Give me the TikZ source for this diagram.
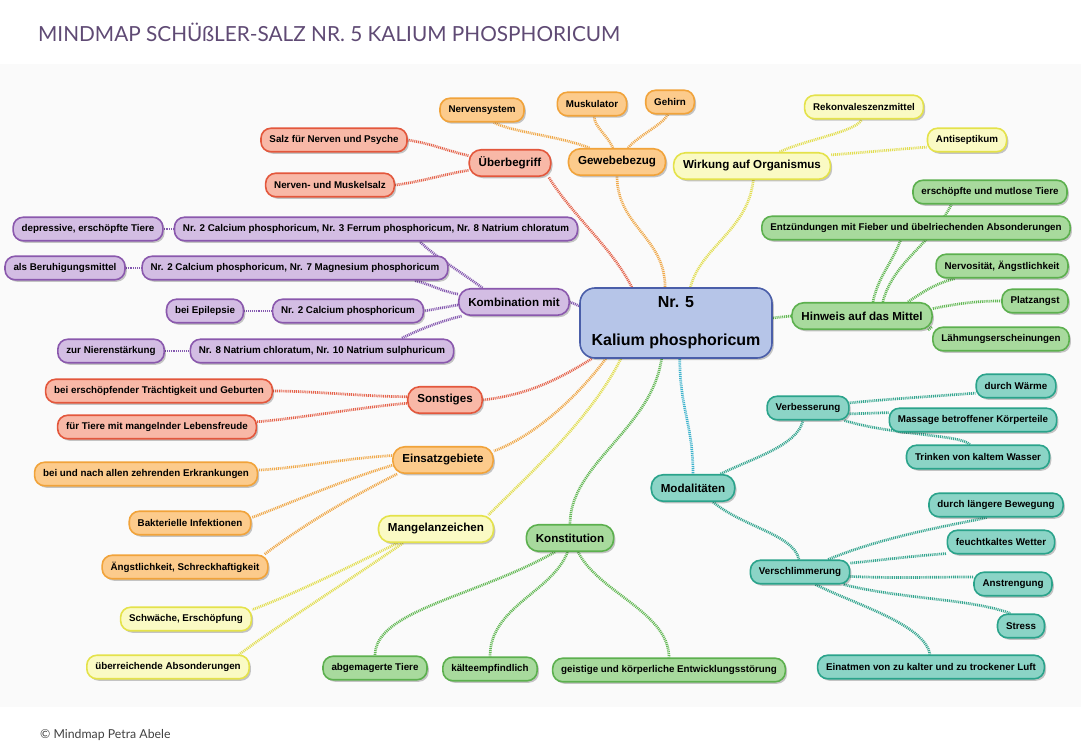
\documentclass[tikz,border=0pt]{standalone}
\usepackage{fontspec}
\setmainfont{Liberation Sans}
\newfontfamily\titlefont{Lato}
\usetikzlibrary{shadows}
\definecolor{fred}{HTML}{F8B8A7}\definecolor{dred}{HTML}{E3573C}\definecolor{ered}{HTML}{E5634B}
\definecolor{forg}{HTML}{FCCB8C}\definecolor{dorg}{HTML}{F1A33A}\definecolor{eorg}{HTML}{F0A848}
\definecolor{fyel}{HTML}{FAFAC4}\definecolor{dyel}{HTML}{E4E24A}\definecolor{eyel}{HTML}{E2DE50}
\definecolor{fgrn}{HTML}{A8DA9D}\definecolor{dgrn}{HTML}{5CB04E}\definecolor{egrn}{HTML}{62B853}
\definecolor{ftea}{HTML}{8BD4C6}\definecolor{dtea}{HTML}{2AA38B}\definecolor{etea}{HTML}{35A690}
\definecolor{ecya}{HTML}{3CB2CC}
\definecolor{fpur}{HTML}{D3BDE3}\definecolor{dpur}{HTML}{8A58AD}\definecolor{epur}{HTML}{8458B0}
\definecolor{fblu}{HTML}{B6C5E8}\definecolor{dblu}{HTML}{4A5EA9}
\definecolor{titlecol}{HTML}{5F4A74}
\pgfdeclarelayer{back}\pgfdeclarelayer{edges}
\pgfsetlayers{back,edges,main}
\begin{document}
\begin{tikzpicture}[x=1pt,y=-1pt,
  box/.style={draw, line width=1.6pt, rounded corners=10pt, inner xsep=8.5pt, inner ysep=2pt,
    minimum height=23.5pt, font=\bfseries\fontsize{9.8}{11}\selectfont,
    drop shadow={shadow xshift=1.8pt, shadow yshift=-2pt, opacity=0.22, fill=black}},
  mainbox/.style={box, minimum height=26.5pt, inner xsep=9.5pt, rounded corners=12pt,
    font=\bfseries\fontsize{11.6}{13}\selectfont},
  cred/.style={fill=fred, draw=dred},
  corg/.style={fill=forg, draw=dorg},
  cyel/.style={fill=fyel, draw=dyel},
  cgrn/.style={fill=fgrn, draw=dgrn},
  ctea/.style={fill=ftea, draw=dtea},
  cpur/.style={fill=fpur, draw=dpur},
  conn/.style={line width=2.7pt, dash pattern=on 1pt off 0.9pt, draw=#1}]
\useasboundingbox (0,0) rectangle (1081,749);
\begin{pgfonlayer}{back}
\fill[black!2] (0,64) rectangle (1081,707);
\end{pgfonlayer}
\node[anchor=west, inner sep=0pt, text=titlecol] (title) at (38,32)
  {\resizebox{582pt}{!}{\titlefont\fontsize{19}{22}\selectfont MINDMAP SCHÜßLER-SALZ NR. 5 KALIUM PHOSPHORICUM}};
\node[anchor=west, inner sep=0pt, text=black!75] (copy) at (40,735)
  {\titlefont\fontsize{12.3}{14}\selectfont © Mindmap Petra Abele};

% center
\node[draw=dblu, fill=fblu, line width=1.6pt, rounded corners=15pt, minimum width=192pt,
  minimum height=70pt, align=center, font=\bfseries\fontsize{16}{19}\selectfont,
  drop shadow={shadow xshift=1.8pt, shadow yshift=-2pt, opacity=0.22, fill=black}]
  (c) at (676,323) {Nr. 5\\[19pt]Kalium phosphoricum};

% Ueberbegriff
\node[mainbox,cred] (uber) at (510,163) {Überbegriff};
\node[box,cred] (salz) at (334,140) {Salz für Nerven und Psyche};
\node[box,cred] (nerv) at (330,185) {Nerven- und Muskelsalz};
% Gewebebezug
\node[mainbox,corg] (gew) at (617,162) {Gewebebezug};
\node[box,corg] (nsys) at (482,110) {Nervensystem};
\node[box,corg] (musk) at (592,104) {Muskulator};
\node[box,corg] (gehirn) at (670,102) {Gehirn};
% Wirkung
\node[mainbox,cyel] (wirk) at (752,166) {Wirkung auf Organismus};
\node[box,cyel] (rek) at (864,107) {Rekonvaleszenzmittel};
\node[box,cyel] (anti) at (967,140) {Antiseptikum};
% Hinweis
\node[mainbox,cgrn] (hin) at (862,316) {Hinweis auf das Mittel};
\node[box,cgrn] (ersch) at (990,192) {erschöpfte und mutlose Tiere};
\node[box,cgrn] (entz) at (916,228) {Entzündungen mit Fieber und übelriechenden Absonderungen};
\node[box,cgrn] (nerv2) at (1002,266) {Nervosität, Ängstlichkeit};
\node[box,cgrn] (platz) at (1035,301) {Platzangst};
\node[box,cgrn] (lahm) at (1001,339) {Lähmungserscheinungen};
% Modalitaeten
\node[mainbox,ctea] (mod) at (693,488) {Modalitäten};
\node[box,ctea] (verb) at (808,408) {Verbesserung};
\node[box,ctea] (warm) at (1016,386) {durch Wärme};
\node[box,ctea] (mass) at (973,420) {Massage betroffener Körperteile};
\node[box,ctea] (trink) at (978,457) {Trinken von kaltem Wasser};
\node[box,ctea] (vers) at (800,572) {Verschlimmerung};
\node[box,ctea] (lang) at (996,505) {durch längere Bewegung};
\node[box,ctea] (feu) at (1001,542) {feuchtkaltes Wetter};
\node[box,ctea] (anst) at (1013,584) {Anstrengung};
\node[box,ctea] (stress) at (1021,626) {Stress};
\node[box,ctea] (einat) at (931,667) {Einatmen von zu kalter und zu trockener Luft};
% Konstitution
\node[mainbox,cgrn] (kon) at (570,538) {Konstitution};
\node[box,cgrn] (abg) at (375,668) {abgemagerte Tiere};
\node[box,cgrn] (kalt) at (490,669) {kälteempfindlich};
\node[box,cgrn] (geist) at (669,670) {geistige und körperliche Entwicklungsstörung};
% Mangelanzeichen
\node[mainbox,cyel] (man) at (436,529) {Mangelanzeichen};
\node[box,cyel] (schw) at (186,619) {Schwäche, Erschöpfung};
\node[box,cyel] (ueb) at (168,667) {überreichende Absonderungen};
% Einsatzgebiete
\node[mainbox,corg] (ein) at (443,460) {Einsatzgebiete};
\node[box,corg] (bun) at (146,474) {bei und nach allen zehrenden Erkrankungen};
\node[box,corg] (bak) at (190,523) {Bakterielle Infektionen};
\node[box,corg] (angst) at (185,567) {Ängstlichkeit, Schreckhaftigkeit};
% Sonstiges
\node[mainbox,cred] (son) at (445,400) {Sonstiges};
\node[box,cred] (bers) at (159,391) {bei erschöpfender Trächtigkeit und Geburten};
\node[box,cred] (fuer) at (157,427) {für Tiere mit mangelnder Lebensfreude};
% Kombination
\node[mainbox,cpur] (komb) at (514,302) {Kombination mit};
\node[box,cpur] (k1) at (376,229) {Nr. 2 Calcium phosphoricum, Nr. 3 Ferrum phosphoricum, Nr. 8 Natrium chloratum};
\node[box,cpur] (k2) at (295,268) {Nr. 2 Calcium phosphoricum, Nr. 7 Magnesium phosphoricum};
\node[box,cpur] (k3) at (348,311) {Nr. 2 Calcium phosphoricum};
\node[box,cpur] (k4) at (322,351) {Nr. 8 Natrium chloratum, Nr. 10 Natrium sulphuricum};
\node[box,cpur] (dep) at (88,229) {depressive, erschöpfte Tiere};
\node[box,cpur] (ber) at (65,268) {als Beruhigungsmittel};
\node[box,cpur] (epi) at (205,311) {bei Epilepsie};
\node[box,cpur] (nier) at (111,351) {zur Nierenstärkung};

\begin{pgfonlayer}{edges}
% main branches
\draw[conn=ered] (c.141) .. controls +(-20,-40) and +(25,40) .. (uber.-20);
\draw[conn=eorg] (c.107) .. controls +(0,-50) and +(0,50) .. (gew.south);
\draw[conn=eyel] (c.68) .. controls +(10,-40) and +(-5,50) .. (wirk.-85);
\draw[conn=egrn] (c.3) -- (hin.west);
\draw[conn=ecya] (c.-84) .. controls +(0,50) and +(0,-50) .. (mod.north);
\draw[conn=egrn] (c.-112) .. controls +(-10,70) and +(0,-60) .. (kon.north);
\draw[conn=eyel] (c.-147) .. controls +(-30,60) and +(40,-40) .. (man.15);
\draw[conn=eorg] (c.-153) .. controls +(-30,40) and +(40,-15) .. (ein.10);
\draw[conn=ered] (c.-157) .. controls +(-40,25) and +(40,-5) .. (son.east);
\draw[conn=epur] (c.170) -- (komb.east);
% Ueberbegriff
\draw[conn=ered] (uber.170) .. controls +(-25,-6) and +(25,4) .. (salz.east);
\draw[conn=ered] (uber.190) .. controls +(-25,4) and +(25,-3) .. (nerv.east);
% Gewebebezug
\draw[conn=eorg] (gew.153) .. controls +(-30,-12) and +(20,10) .. (nsys.-47);
\draw[conn=eorg] (gew.106) .. controls +(-5,-12) and +(0,10) .. (musk.-80);
\draw[conn=eorg] (gew.52) .. controls +(10,-12) and +(-5,10) .. (gehirn.-100);
% Wirkung
\draw[conn=eyel] (wirk.27) .. controls +(25,-12) and +(-5,12) .. (rek.-100);
\draw[conn=eyel] (wirk.8) .. controls +(40,-3) and +(-40,3) .. (anti.190);
% Hinweis
\draw[conn=egrn] (hin.34) .. controls +(10,-40) and +(-20,40) .. (ersch.198);
\draw[conn=egrn] (hin.52) .. controls +(5,-25) and +(-10,25) .. (entz.-141);
\draw[conn=egrn] (hin.17) .. controls +(15,-10) and +(-20,5) .. (nerv2.195);
\draw[conn=egrn] (hin.6) .. controls +(25,-5) and +(-25,0) .. (platz.west);
\draw[conn=egrn] (hin.-12) -- (lahm.170);
% Modalitaeten
\draw[conn=etea] (mod.27) .. controls +(30,-15) and +(-5,25) .. (verb.-112);
\draw[conn=etea] (mod.-35) .. controls +(30,25) and +(-5,-25) .. (vers.95);
\draw[conn=etea] (verb.7) .. controls +(40,-4) and +(-40,3) .. (warm.190);
\draw[conn=etea] (verb.-8) -- (mass.175);
\draw[conn=etea] (verb.-19) .. controls +(50,15) and +(-10,-10) .. (trink.123);
\draw[conn=etea] (vers.24) .. controls +(60,-25) and +(-20,5) .. (lang.-127);
\draw[conn=etea] (vers.10) .. controls +(40,-4) and +(-40,3) .. (feu.192);
\draw[conn=etea] (vers.-5) .. controls +(40,2) and +(-40,0) .. (anst.170);
\draw[conn=etea] (vers.-16) .. controls +(60,15) and +(-40,-15) .. (stress.130);
\draw[conn=etea] (vers.-39) .. controls +(40,20) and +(-5,-30) .. (einat.95);
% Konstitution
\draw[conn=egrn] (kon.-137) .. controls +(-80,45) and +(0,-45) .. (abg.north);
\draw[conn=egrn] (kon.-100) .. controls +(-15,40) and +(0,-50) .. (kalt.north);
\draw[conn=egrn] (kon.-60) .. controls +(20,40) and +(0,-45) .. (geist.north);
% Mangelanzeichen
\draw[conn=eyel] (man.200) .. controls +(-50,25) and +(40,-15) .. (schw.8);
\draw[conn=eyel] (man.203) .. controls +(-50,35) and +(40,-30) .. (ueb.10);
% Einsatzgebiete
\draw[conn=eorg] (ein.175) .. controls +(-50,3) and +(40,-2) .. (bun.2);
\draw[conn=eorg] (ein.186) .. controls +(-50,15) and +(40,-15) .. (bak.5);
\draw[conn=eorg] (ein.197) .. controls +(-50,25) and +(40,-30) .. (angst.9);
% Sonstiges
\draw[conn=ered] (son.175) .. controls +(-40,0) and +(40,0) .. (bers.east);
\draw[conn=ered] (son.185) .. controls +(-40,3) and +(40,-3) .. (fuer.3);
% Kombination
\draw[conn=epur] (komb.156) .. controls +(-20,-15) and +(15,15) .. (k1.-16);
\draw[conn=epur] (komb.172) .. controls +(-20,-4) and +(20,5) .. (k2.-6.5);
\draw[conn=epur] (komb.183) -- (k3.east);
\draw[conn=epur] (komb.195) .. controls +(-20,5) and +(20,-10) .. (k4.9);
\draw[conn=epur] (dep.east) -- (k1.west);
\draw[conn=epur] (ber.east) -- (k2.west);
\draw[conn=epur] (epi.east) -- (k3.west);
\draw[conn=epur] (nier.east) -- (k4.west);
\end{pgfonlayer}
\end{tikzpicture}
\end{document}
